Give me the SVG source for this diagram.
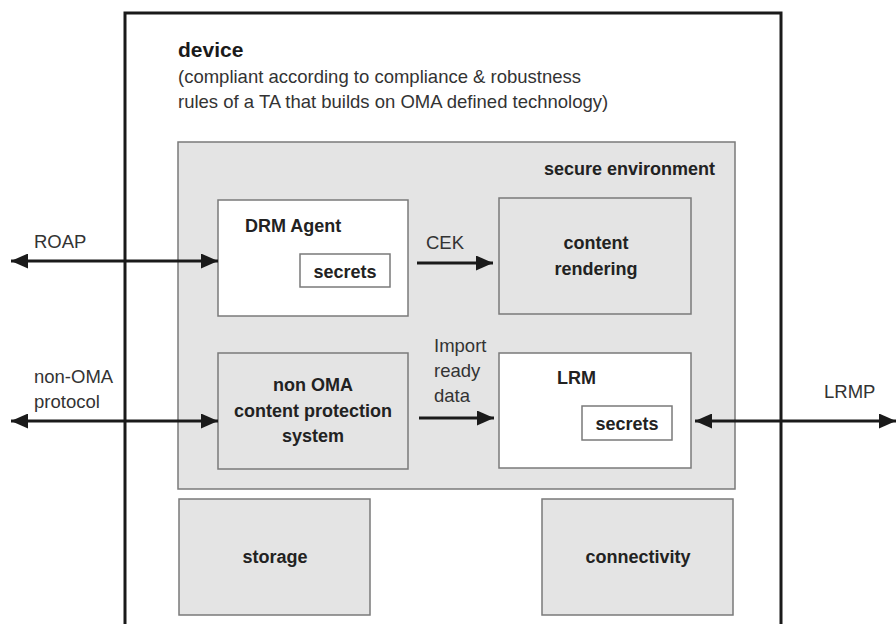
<svg xmlns="http://www.w3.org/2000/svg" width="896" height="624" viewBox="0 0 896 624">
<defs>
<marker id="ah" viewBox="0 0 17 15" refX="17" refY="7.5" markerWidth="17" markerHeight="15" markerUnits="userSpaceOnUse" orient="auto-start-reverse">
<path d="M0,0 L17,7.5 L0,15 Z" fill="#1a1a1a"/>
</marker>
<style>
.t{font-family:"Liberation Sans",Arial,sans-serif;fill:#1a1a1a}
.b{font-weight:bold;font-size:18px;fill:#222}
.n{font-size:18.5px;fill:#333}
.grey{fill:#e4e4e4;stroke:#7a7a7a;stroke-width:1.5}
.white{fill:#fff;stroke:#7a7a7a;stroke-width:1.5}
.c{stroke:#1a1a1a;stroke-width:3;fill:none}
</style>
</defs>
<rect width="896" height="624" fill="#fff"/>
<g id="device">
<path d="M125,624 V13 H781 V624" fill="none" stroke="#1a1a1a" stroke-width="3"/>
<text class="t" x="178" y="57" font-weight="bold" font-size="21">device</text>
<text class="t n" x="178" y="83">(compliant according to compliance &amp; robustness</text>
<text class="t n" x="178" y="108">rules of a TA that builds on OMA defined technology)</text>
</g>
<g id="secure-environment">
<rect class="grey" x="178" y="142" width="557" height="347"/>
<text class="t b" x="715" y="175" text-anchor="end">secure environment</text>
</g>
<g id="drm-agent">
<rect class="white" x="218" y="200" width="190" height="116"/>
<text class="t b" x="245" y="232">DRM Agent</text>
<rect class="white" x="300" y="254" width="90" height="33"/>
<text class="t b" x="345" y="278" text-anchor="middle">secrets</text>
</g>
<g id="content-rendering">
<rect class="grey" x="499" y="198" width="192" height="116"/>
<text class="t b" x="596" y="249" text-anchor="middle">content</text>
<text class="t b" x="596" y="275" text-anchor="middle">rendering</text>
</g>
<g id="non-oma">
<rect class="grey" x="218" y="353" width="190" height="116"/>
<text class="t b" x="313" y="391" text-anchor="middle">non OMA</text>
<text class="t b" x="313" y="417" text-anchor="middle">content protection</text>
<text class="t b" x="313" y="442" text-anchor="middle">system</text>
</g>
<g id="lrm">
<rect class="white" x="499" y="353" width="192" height="115"/>
<text class="t b" x="557" y="384">LRM</text>
<rect class="white" x="582" y="406" width="90" height="34"/>
<text class="t b" x="627" y="430" text-anchor="middle">secrets</text>
</g>
<g id="storage">
<rect class="grey" x="179" y="499" width="191" height="116"/>
<text class="t b" x="275" y="563" text-anchor="middle">storage</text>
</g>
<g id="connectivity">
<rect class="grey" x="542" y="499" width="191" height="116"/>
<text class="t b" x="638" y="563" text-anchor="middle">connectivity</text>
</g>
<g id="connectors">
<line class="c" x1="11" y1="261" x2="218" y2="261" marker-start="url(#ah)" marker-end="url(#ah)"/>
<text class="t n" x="34" y="248">ROAP</text>
<line class="c" x1="417" y1="263" x2="493" y2="263" marker-end="url(#ah)"/>
<text class="t n" x="426" y="249">CEK</text>
<line class="c" x1="11" y1="421" x2="218" y2="421" marker-start="url(#ah)" marker-end="url(#ah)"/>
<text class="t n" x="34" y="383">non-OMA</text>
<text class="t n" x="34" y="408">protocol</text>
<line class="c" x1="419" y1="418" x2="494" y2="418" marker-end="url(#ah)"/>
<text class="t n" x="434" y="352">Import</text>
<text class="t n" x="434" y="377">ready</text>
<text class="t n" x="434" y="402">data</text>
<line class="c" x1="695" y1="421" x2="896" y2="421" marker-start="url(#ah)" marker-end="url(#ah)"/>
<text class="t n" x="824" y="398">LRMP</text>
</g>
</svg>
